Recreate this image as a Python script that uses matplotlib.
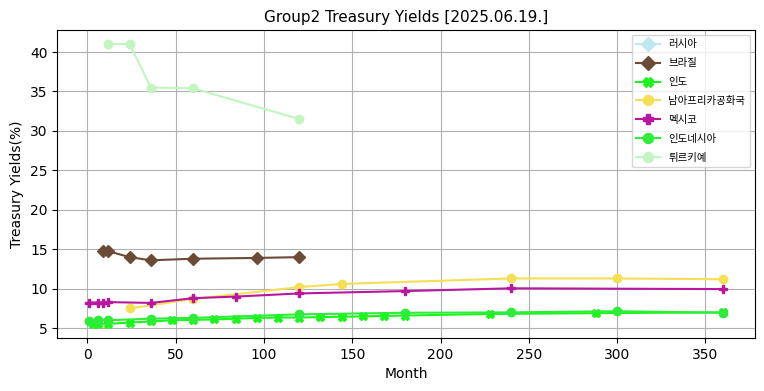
import numpy as np
import matplotlib
matplotlib.use('Agg')
from matplotlib import pyplot as plt

plt.rcParams['font.family'] = ['DejaVu Sans', 'Noto Sans CJK KR']

# months / yields per country
russia_m = []
russia_y = []

brazil_m = [9, 12, 24, 36, 60, 96, 120]
brazil_y = [14.8, 14.75, 14.0, 13.6, 13.8, 13.9, 14.0]

india_m = [3, 6, 12, 24, 36, 48, 60, 72, 84, 96, 108, 120, 132, 144, 156, 168, 180, 228, 288, 360]
india_y = [5.5, 5.55, 5.55, 5.7, 5.85, 6.0, 6.05, 6.1, 6.2, 6.3, 6.35, 6.35, 6.4, 6.45, 6.5, 6.55,
           6.6, 6.8, 6.9, 7.0]

safrica_m = [24, 60, 120, 144, 240, 300, 360]
safrica_y = [7.5, 8.7, 10.2, 10.6, 11.3, 11.3, 11.2]

mexico_m = [1, 6, 9, 12, 36, 60, 84, 120, 180, 240, 360]
mexico_y = [8.25, 8.25, 8.25, 8.3, 8.2, 8.8, 9.0, 9.4, 9.7, 10.05, 9.95]

indonesia_m = [1, 6, 12, 36, 60, 120, 180, 240, 300, 360]
indonesia_y = [5.9, 6.05, 6.0, 6.2, 6.3, 6.75, 6.95, 7.0, 7.15, 6.95]

turkey_m = [12, 24, 36, 60, 120]
turkey_y = [41.0, 41.0, 35.5, 35.4, 31.5]

series = [
    ('러시아', russia_m, russia_y, '#bfe7ef', 'D'),
    ('브라질', brazil_m, brazil_y, '#6b4a36', 'D'),
    ('인도', india_m, india_y, '#1cf51c', 'X'),
    ('남아프리카공화국', safrica_m, safrica_y, '#f5df55', 'o'),
    ('멕시코', mexico_m, mexico_y, '#b8179f', 'P'),
    ('인도네시아', indonesia_m, indonesia_y, '#2eec3a', 'o'),
    ('튀르키예', turkey_m, turkey_y, '#c2f5c0', 'o'),
]

fig, ax = plt.subplots(figsize=(7.64, 3.91), dpi=100)
fig.subplots_adjust(left=0.075, right=0.988, top=0.923, bottom=0.135)

for name, m, y, c, mk in series:
    ax.plot(m, y, color=c, marker=mk, label=name)

ax.set_title('Group2 Treasury Yields [2025.06.19.]', fontsize=11)
ax.set_xlabel('Month')
ax.set_ylabel('Treasury Yields(%)')
ax.grid(True)
ax.legend(loc='upper right', prop={'family': ['Noto Sans CJK KR'], 'size': 7.5},
          labelspacing=0.85, handlelength=2.3, markerscale=1.2)

fig.savefig('out.png')
